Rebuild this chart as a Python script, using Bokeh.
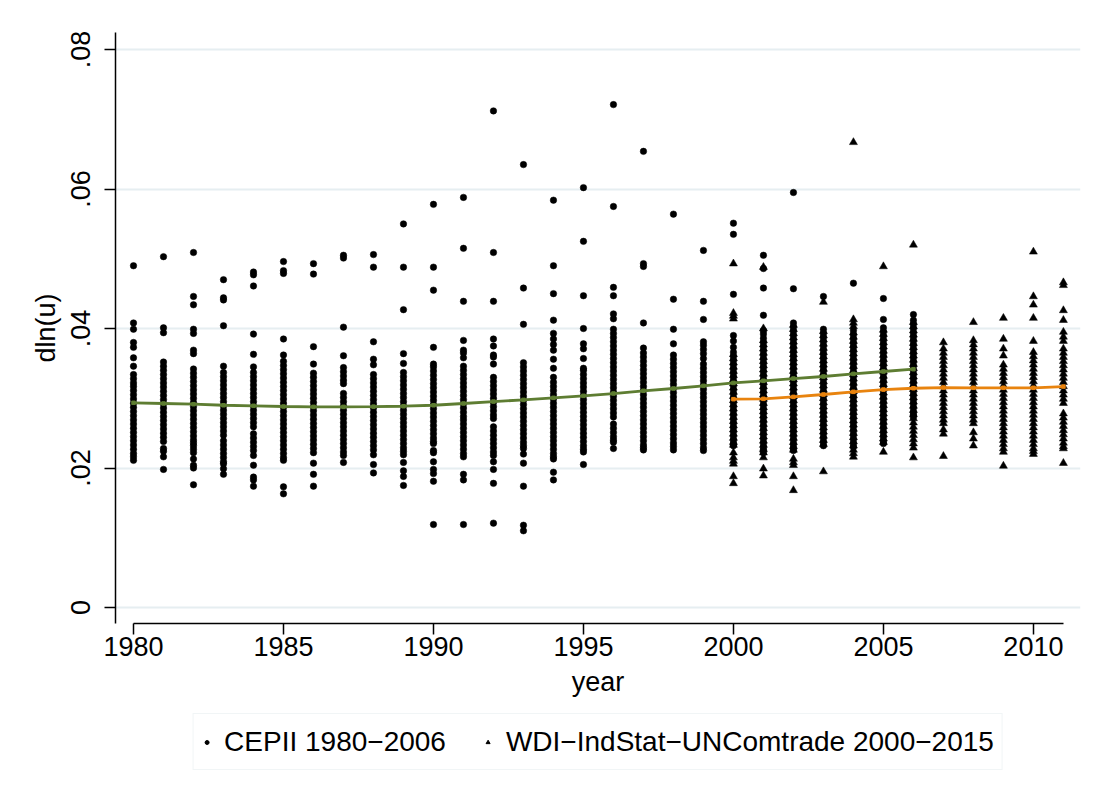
from bokeh.plotting import figure
from bokeh.models import Range1d, FixedTicker, Legend, LegendItem
from bokeh.layouts import column
from bokeh.embed import file_html
from bokeh.resources import INLINE

# ---------------- data ----------------
cepii_years = list(range(1980, 2007))
cepii_values = [
    [0.0490, 0.0408, 0.0399, 0.0380, 0.0373, 0.0358, 0.0346, 0.0334, 0.0328, 0.0322, 0.0317, 0.0311, 0.0305, 0.0299, 0.0293, 0.0287, 0.0281, 0.0275, 0.0269, 0.0263, 0.0257, 0.0251, 0.0245, 0.0239, 0.0233, 0.0227, 0.0221, 0.0216, 0.0211],
    [0.0503, 0.0401, 0.0394, 0.0352, 0.0346, 0.0340, 0.0334, 0.0328, 0.0322, 0.0316, 0.0310, 0.0304, 0.0298, 0.0292, 0.0286, 0.0280, 0.0274, 0.0268, 0.0262, 0.0256, 0.0250, 0.0244, 0.0238, 0.0228, 0.0224, 0.0216, 0.0198],
    [0.0509, 0.0446, 0.0434, 0.0399, 0.0393, 0.0369, 0.0364, 0.0342, 0.0336, 0.0330, 0.0324, 0.0318, 0.0312, 0.0306, 0.0300, 0.0294, 0.0288, 0.0282, 0.0276, 0.0270, 0.0264, 0.0258, 0.0252, 0.0246, 0.0240, 0.0236, 0.0232, 0.0227, 0.0222, 0.0213, 0.0204, 0.0200, 0.0176],
    [0.0470, 0.0444, 0.0441, 0.0404, 0.0346, 0.0337, 0.0331, 0.0325, 0.0319, 0.0313, 0.0307, 0.0301, 0.0295, 0.0289, 0.0283, 0.0277, 0.0271, 0.0265, 0.0259, 0.0253, 0.0247, 0.0239, 0.0233, 0.0227, 0.0221, 0.0215, 0.0209, 0.0206, 0.0199, 0.0191],
    [0.0481, 0.0477, 0.0461, 0.0392, 0.0363, 0.0345, 0.0337, 0.0331, 0.0325, 0.0319, 0.0313, 0.0307, 0.0301, 0.0295, 0.0289, 0.0283, 0.0277, 0.0271, 0.0265, 0.0259, 0.0249, 0.0243, 0.0237, 0.0231, 0.0225, 0.0218, 0.0204, 0.0187, 0.0183, 0.0174],
    [0.0496, 0.0483, 0.0479, 0.0385, 0.0362, 0.0353, 0.0347, 0.0341, 0.0335, 0.0329, 0.0323, 0.0317, 0.0311, 0.0305, 0.0299, 0.0293, 0.0287, 0.0281, 0.0275, 0.0269, 0.0263, 0.0257, 0.0251, 0.0245, 0.0239, 0.0233, 0.0227, 0.0221, 0.0215, 0.0211, 0.0173, 0.0163],
    [0.0493, 0.0478, 0.0374, 0.0349, 0.0336, 0.0330, 0.0324, 0.0318, 0.0312, 0.0306, 0.0300, 0.0294, 0.0288, 0.0282, 0.0276, 0.0270, 0.0264, 0.0258, 0.0252, 0.0246, 0.0240, 0.0234, 0.0228, 0.0222, 0.0207, 0.0191, 0.0174],
    [0.0505, 0.0501, 0.0402, 0.0361, 0.0344, 0.0338, 0.0332, 0.0326, 0.0321, 0.0307, 0.0301, 0.0295, 0.0289, 0.0283, 0.0277, 0.0271, 0.0265, 0.0259, 0.0253, 0.0247, 0.0241, 0.0235, 0.0229, 0.0223, 0.0218, 0.0208],
    [0.0506, 0.0488, 0.0381, 0.0356, 0.0348, 0.0334, 0.0328, 0.0322, 0.0316, 0.0310, 0.0304, 0.0298, 0.0292, 0.0286, 0.0280, 0.0274, 0.0268, 0.0262, 0.0256, 0.0250, 0.0244, 0.0238, 0.0232, 0.0226, 0.0219, 0.0205, 0.0193],
    [0.0550, 0.0488, 0.0427, 0.0364, 0.0350, 0.0337, 0.0331, 0.0325, 0.0319, 0.0313, 0.0307, 0.0301, 0.0295, 0.0289, 0.0283, 0.0277, 0.0271, 0.0265, 0.0259, 0.0253, 0.0247, 0.0241, 0.0235, 0.0229, 0.0224, 0.0219, 0.0208, 0.0196, 0.0188, 0.0175],
    [0.0578, 0.0488, 0.0455, 0.0373, 0.0349, 0.0345, 0.0339, 0.0333, 0.0327, 0.0321, 0.0315, 0.0309, 0.0303, 0.0297, 0.0291, 0.0285, 0.0279, 0.0273, 0.0267, 0.0261, 0.0255, 0.0249, 0.0243, 0.0238, 0.0235, 0.0225, 0.0222, 0.0209, 0.0198, 0.0192, 0.0181, 0.0119],
    [0.0588, 0.0515, 0.0439, 0.0383, 0.0369, 0.0365, 0.0358, 0.0346, 0.0340, 0.0334, 0.0328, 0.0322, 0.0316, 0.0310, 0.0304, 0.0298, 0.0292, 0.0286, 0.0280, 0.0274, 0.0269, 0.0263, 0.0257, 0.0251, 0.0245, 0.0239, 0.0233, 0.0227, 0.0221, 0.0216, 0.0191, 0.0183, 0.0119],
    [0.0712, 0.0509, 0.0439, 0.0385, 0.0375, 0.0362, 0.0359, 0.0349, 0.0330, 0.0324, 0.0318, 0.0312, 0.0306, 0.0300, 0.0294, 0.0288, 0.0282, 0.0276, 0.0271, 0.0259, 0.0253, 0.0247, 0.0241, 0.0235, 0.0229, 0.0223, 0.0218, 0.0209, 0.0198, 0.0178, 0.0121],
    [0.0635, 0.0458, 0.0406, 0.0351, 0.0345, 0.0339, 0.0333, 0.0327, 0.0321, 0.0315, 0.0309, 0.0303, 0.0297, 0.0291, 0.0285, 0.0279, 0.0273, 0.0267, 0.0261, 0.0255, 0.0249, 0.0243, 0.0237, 0.0232, 0.0228, 0.0220, 0.0207, 0.0174, 0.0118, 0.0110],
    [0.0584, 0.0490, 0.0450, 0.0412, 0.0393, 0.0385, 0.0377, 0.0369, 0.0356, 0.0343, 0.0330, 0.0323, 0.0317, 0.0311, 0.0305, 0.0299, 0.0293, 0.0287, 0.0281, 0.0275, 0.0269, 0.0263, 0.0257, 0.0251, 0.0245, 0.0239, 0.0233, 0.0227, 0.0221, 0.0216, 0.0213, 0.0194, 0.0183],
    [0.0602, 0.0525, 0.0447, 0.0400, 0.0378, 0.0371, 0.0357, 0.0343, 0.0340, 0.0334, 0.0328, 0.0322, 0.0316, 0.0310, 0.0304, 0.0298, 0.0292, 0.0286, 0.0280, 0.0274, 0.0268, 0.0262, 0.0256, 0.0250, 0.0244, 0.0238, 0.0232, 0.0227, 0.0223, 0.0205],
    [0.0721, 0.0575, 0.0459, 0.0447, 0.0421, 0.0414, 0.0399, 0.0393, 0.0387, 0.0381, 0.0375, 0.0369, 0.0363, 0.0357, 0.0351, 0.0345, 0.0339, 0.0333, 0.0327, 0.0321, 0.0315, 0.0309, 0.0303, 0.0297, 0.0291, 0.0285, 0.0279, 0.0273, 0.0263, 0.0257, 0.0251, 0.0245, 0.0240, 0.0237, 0.0228],
    [0.0654, 0.0493, 0.0489, 0.0408, 0.0372, 0.0365, 0.0359, 0.0353, 0.0347, 0.0341, 0.0335, 0.0329, 0.0323, 0.0317, 0.0311, 0.0305, 0.0299, 0.0293, 0.0287, 0.0281, 0.0275, 0.0269, 0.0263, 0.0257, 0.0251, 0.0245, 0.0239, 0.0233, 0.0229, 0.0226],
    [0.0564, 0.0442, 0.0399, 0.0378, 0.0362, 0.0356, 0.0350, 0.0344, 0.0338, 0.0332, 0.0326, 0.0320, 0.0314, 0.0308, 0.0302, 0.0296, 0.0290, 0.0284, 0.0278, 0.0272, 0.0266, 0.0260, 0.0254, 0.0248, 0.0242, 0.0236, 0.0231, 0.0226],
    [0.0512, 0.0439, 0.0413, 0.0381, 0.0376, 0.0370, 0.0364, 0.0357, 0.0349, 0.0343, 0.0337, 0.0331, 0.0325, 0.0319, 0.0313, 0.0307, 0.0301, 0.0295, 0.0289, 0.0283, 0.0277, 0.0271, 0.0265, 0.0259, 0.0253, 0.0247, 0.0241, 0.0235, 0.0229, 0.0225],
    [0.0551, 0.0535, 0.0449, 0.0390, 0.0382, 0.0373, 0.0366, 0.0360, 0.0354, 0.0348, 0.0342, 0.0336, 0.0330, 0.0324, 0.0318, 0.0312, 0.0306, 0.0300, 0.0294, 0.0288, 0.0282, 0.0276, 0.0270, 0.0264, 0.0258, 0.0252, 0.0246, 0.0240, 0.0235, 0.0232],
    [0.0505, 0.0486, 0.0458, 0.0419, 0.0397, 0.0392, 0.0386, 0.0380, 0.0374, 0.0368, 0.0362, 0.0356, 0.0350, 0.0344, 0.0338, 0.0332, 0.0326, 0.0320, 0.0314, 0.0308, 0.0302, 0.0296, 0.0290, 0.0284, 0.0278, 0.0272, 0.0266, 0.0260, 0.0254, 0.0248, 0.0242, 0.0236, 0.0230, 0.0226, 0.0222],
    [0.0595, 0.0457, 0.0408, 0.0402, 0.0396, 0.0390, 0.0384, 0.0378, 0.0372, 0.0366, 0.0360, 0.0354, 0.0348, 0.0342, 0.0336, 0.0330, 0.0324, 0.0318, 0.0312, 0.0306, 0.0300, 0.0294, 0.0288, 0.0282, 0.0276, 0.0270, 0.0264, 0.0258, 0.0252, 0.0246, 0.0240, 0.0234, 0.0229, 0.0225],
    [0.0446, 0.0399, 0.0393, 0.0387, 0.0381, 0.0375, 0.0369, 0.0363, 0.0357, 0.0351, 0.0345, 0.0339, 0.0333, 0.0327, 0.0321, 0.0315, 0.0309, 0.0303, 0.0297, 0.0291, 0.0285, 0.0279, 0.0273, 0.0267, 0.0261, 0.0255, 0.0249, 0.0243, 0.0237, 0.0232],
    [0.0465, 0.0397, 0.0391, 0.0385, 0.0379, 0.0373, 0.0367, 0.0361, 0.0355, 0.0349, 0.0343, 0.0337, 0.0331, 0.0325, 0.0319, 0.0313, 0.0307, 0.0301, 0.0295, 0.0289, 0.0283, 0.0277, 0.0271, 0.0265, 0.0259, 0.0253, 0.0247, 0.0241, 0.0235, 0.0230],
    [0.0443, 0.0413, 0.0401, 0.0395, 0.0389, 0.0383, 0.0377, 0.0371, 0.0365, 0.0359, 0.0353, 0.0347, 0.0341, 0.0335, 0.0329, 0.0323, 0.0317, 0.0311, 0.0305, 0.0299, 0.0293, 0.0287, 0.0281, 0.0275, 0.0269, 0.0263, 0.0257, 0.0251, 0.0245, 0.0239, 0.0235],
    [0.0420, 0.0412, 0.0406, 0.0400, 0.0394, 0.0388, 0.0382, 0.0376, 0.0370, 0.0364, 0.0358, 0.0352, 0.0346, 0.0340, 0.0334, 0.0328, 0.0322, 0.0316, 0.0310, 0.0304, 0.0298, 0.0292, 0.0286, 0.0280, 0.0276, 0.0273],
]

wdi_years = list(range(2000, 2012))
wdi_values = [
    [0.0493, 0.0422, 0.0418, 0.0414, 0.0363, 0.0357, 0.0351, 0.0345, 0.0339, 0.0333, 0.0327, 0.0321, 0.0315, 0.0309, 0.0303, 0.0297, 0.0291, 0.0285, 0.0279, 0.0273, 0.0267, 0.0261, 0.0255, 0.0249, 0.0243, 0.0237, 0.0233, 0.0222, 0.0215, 0.0210, 0.0206, 0.0188, 0.0178],
    [0.0488, 0.0400, 0.0383, 0.0377, 0.0371, 0.0365, 0.0359, 0.0353, 0.0347, 0.0341, 0.0335, 0.0329, 0.0323, 0.0317, 0.0311, 0.0305, 0.0299, 0.0293, 0.0287, 0.0281, 0.0275, 0.0269, 0.0263, 0.0257, 0.0251, 0.0245, 0.0239, 0.0233, 0.0227, 0.0222, 0.0215, 0.0199, 0.0189],
    [0.0405, 0.0399, 0.0393, 0.0387, 0.0381, 0.0375, 0.0369, 0.0363, 0.0357, 0.0351, 0.0345, 0.0339, 0.0333, 0.0327, 0.0321, 0.0315, 0.0309, 0.0303, 0.0297, 0.0291, 0.0285, 0.0279, 0.0273, 0.0267, 0.0261, 0.0255, 0.0249, 0.0243, 0.0237, 0.0231, 0.0226, 0.0213, 0.0208, 0.0204, 0.0188, 0.0168],
    [0.0438, 0.0396, 0.0390, 0.0384, 0.0378, 0.0372, 0.0366, 0.0360, 0.0354, 0.0348, 0.0342, 0.0336, 0.0330, 0.0324, 0.0318, 0.0312, 0.0306, 0.0300, 0.0294, 0.0288, 0.0282, 0.0276, 0.0270, 0.0264, 0.0258, 0.0252, 0.0246, 0.0240, 0.0234, 0.0195],
    [0.0667, 0.0413, 0.0408, 0.0403, 0.0394, 0.0388, 0.0382, 0.0376, 0.0370, 0.0364, 0.0358, 0.0352, 0.0346, 0.0340, 0.0334, 0.0328, 0.0322, 0.0316, 0.0310, 0.0304, 0.0298, 0.0292, 0.0286, 0.0280, 0.0274, 0.0268, 0.0262, 0.0256, 0.0250, 0.0244, 0.0238, 0.0232, 0.0226, 0.0221, 0.0216],
    [0.0489, 0.0398, 0.0392, 0.0386, 0.0380, 0.0374, 0.0368, 0.0362, 0.0356, 0.0350, 0.0344, 0.0338, 0.0332, 0.0326, 0.0320, 0.0314, 0.0308, 0.0302, 0.0296, 0.0290, 0.0284, 0.0278, 0.0272, 0.0266, 0.0260, 0.0254, 0.0248, 0.0242, 0.0237, 0.0223],
    [0.0520, 0.0409, 0.0403, 0.0397, 0.0391, 0.0385, 0.0379, 0.0373, 0.0367, 0.0361, 0.0355, 0.0349, 0.0343, 0.0337, 0.0331, 0.0325, 0.0319, 0.0313, 0.0307, 0.0301, 0.0295, 0.0289, 0.0283, 0.0277, 0.0271, 0.0265, 0.0259, 0.0253, 0.0247, 0.0241, 0.0235, 0.0229, 0.0215],
    [0.0380, 0.0371, 0.0365, 0.0359, 0.0353, 0.0347, 0.0341, 0.0335, 0.0329, 0.0323, 0.0317, 0.0311, 0.0305, 0.0299, 0.0293, 0.0287, 0.0281, 0.0275, 0.0269, 0.0264, 0.0255, 0.0249, 0.0217],
    [0.0409, 0.0383, 0.0377, 0.0371, 0.0365, 0.0359, 0.0353, 0.0347, 0.0341, 0.0335, 0.0329, 0.0323, 0.0317, 0.0311, 0.0305, 0.0299, 0.0293, 0.0287, 0.0281, 0.0275, 0.0269, 0.0264, 0.0251, 0.0242, 0.0232],
    [0.0415, 0.0385, 0.0371, 0.0361, 0.0348, 0.0342, 0.0336, 0.0330, 0.0324, 0.0318, 0.0312, 0.0306, 0.0300, 0.0294, 0.0288, 0.0282, 0.0276, 0.0270, 0.0264, 0.0258, 0.0252, 0.0246, 0.0240, 0.0234, 0.0228, 0.0223, 0.0203],
    [0.0510, 0.0446, 0.0434, 0.0415, 0.0382, 0.0366, 0.0360, 0.0354, 0.0348, 0.0342, 0.0336, 0.0330, 0.0324, 0.0318, 0.0312, 0.0306, 0.0300, 0.0294, 0.0288, 0.0282, 0.0276, 0.0270, 0.0264, 0.0258, 0.0252, 0.0246, 0.0240, 0.0234, 0.0228, 0.0224, 0.0220],
    [0.0466, 0.0462, 0.0426, 0.0412, 0.0395, 0.0388, 0.0382, 0.0371, 0.0365, 0.0359, 0.0353, 0.0347, 0.0341, 0.0335, 0.0329, 0.0323, 0.0317, 0.0311, 0.0305, 0.0299, 0.0293, 0.0278, 0.0272, 0.0266, 0.0260, 0.0254, 0.0248, 0.0242, 0.0236, 0.0231, 0.0228, 0.0207],
]

cepii_smooth = [0.02935, 0.02925, 0.02915, 0.02900, 0.02892, 0.02882, 0.02877, 0.02877, 0.02880, 0.02886,
                0.02900, 0.02925, 0.02953, 0.02977, 0.03006, 0.03035, 0.03068, 0.03107, 0.03140, 0.03178,
                0.03220, 0.03250, 0.03283, 0.03312, 0.03350, 0.03384, 0.03417]
wdi_smooth = [0.02987, 0.02992, 0.03020, 0.03054, 0.03092, 0.03125, 0.03144, 0.03154, 0.03150, 0.03150, 0.03150, 0.03168]

x_ticks = [1980, 1985, 1990, 1995, 2000, 2005, 2010]
y_ticks = [0.0, 0.02, 0.04, 0.06, 0.08]
y_tick_labels = ["0", ".02", ".04", ".06", ".08"]
legend_labels = ["CEPII 1980\u22122006", "WDI\u2212IndStat\u2212UNComtrade 2000\u22122015"]

GREEN = "#5E7D32"
ORANGE = "#E8830E"
GRID = "#E6EEF1"
FONT = "Liberation Sans"

# flatten for the scatter glyphs
cx, cy = [], []
for yr, vals in zip(cepii_years, cepii_values):
    cx += [yr] * len(vals)
    cy += vals
wx, wy = [], []
for yr, vals in zip(wdi_years, wdi_values):
    wx += [yr] * len(vals)
    wy += vals

# ---------------- main plot ----------------
p = figure(width=1083, height=705, output_backend="svg", toolbar_location=None,
           x_range=Range1d(1979.4, 2011.57), y_range=Range1d(-0.00229, 0.08244),
           min_border_left=115, min_border_right=3, min_border_top=32, min_border_bottom=82)
p.background_fill_color = "white"
p.border_fill_color = "white"
p.outline_line_color = None

p.xgrid.grid_line_color = None
p.ygrid.grid_line_color = GRID
p.ygrid.grid_line_width = 2

xa = p.xaxis[0]
xa.ticker = FixedTicker(ticks=x_ticks)
xa.bounds = (1980, 2011)
xa.axis_label = "year"
xa.axis_line_width = 1.5
xa.major_tick_line_width = 1.5
xa.major_tick_out = 11
xa.major_tick_in = 0
xa.minor_tick_line_color = None
xa.major_label_text_font = FONT
xa.major_label_text_font_size = "27px"
xa.major_label_text_color = "black"
xa.major_label_standoff = 2
xa.axis_label_text_font = FONT
xa.axis_label_text_font_size = "27px"
xa.axis_label_text_font_style = "normal"
xa.axis_label_text_color = "black"
xa.axis_label_standoff = 8

ya = p.yaxis[0]
ya.ticker = FixedTicker(ticks=y_ticks)
ya.major_label_overrides = {t: l for t, l in zip(y_ticks, y_tick_labels)}
ya.major_label_orientation = "vertical"
ya.axis_label = "dln(u)"
ya.axis_line_width = 1.5
ya.major_tick_line_width = 1.5
ya.major_tick_out = 11
ya.major_tick_in = 0
ya.minor_tick_line_color = None
ya.major_label_text_font = FONT
ya.major_label_text_font_size = "27px"
ya.major_label_text_color = "black"
ya.major_label_standoff = 14
ya.axis_label_text_font = FONT
ya.axis_label_text_font_size = "27px"
ya.axis_label_text_font_style = "normal"
ya.axis_label_text_color = "black"
ya.axis_label_standoff = 8

p.scatter(cx, cy, marker="circle", size=6.5, fill_color="black", line_color="black", line_width=0.5)
p.scatter(wx, wy, marker="triangle", size=8, fill_color="black", line_color="black", line_width=0.5)

p.line(cepii_years, cepii_smooth, line_color=GREEN, line_width=2.8)
p.scatter(cepii_years, cepii_smooth, marker="square", size=3.5, color=GREEN)
p.line(wdi_years, wdi_smooth, line_color=ORANGE, line_width=2.8)
p.scatter(wdi_years, wdi_smooth, marker="square", size=3.5, color=ORANGE)

# ---------------- legend strip ----------------
lg = figure(width=1083, height=80, output_backend="svg", toolbar_location=None,
            x_axis_location=None, y_axis_location=None,
            x_range=Range1d(1979.4, 2011.57), y_range=Range1d(-0.00229, 0.08244),
            min_border_left=115, min_border_right=3, min_border_top=0, min_border_bottom=0)
lg.background_fill_color = "white"
lg.border_fill_color = "white"
lg.outline_line_color = None
lg.grid.visible = False
k1 = lg.scatter(cx, cy, marker="circle", color="black", visible=False)
k2 = lg.scatter(wx, wy, marker="triangle", color="black", visible=False)

legend = Legend(items=[LegendItem(label=legend_labels[0], renderers=[k1]),
                       LegendItem(label=legend_labels[1], renderers=[k2])],
                location="top_center", orientation="horizontal")
legend.label_text_font = FONT
legend.label_text_font_size = "28px"
legend.label_text_color = "black"
legend.glyph_width = 10
legend.glyph_height = 20
legend.label_standoff = 13
legend.spacing = 37
legend.padding = 8
legend.margin = 8
legend.label_height = 39
legend.border_line_color = "#E3EBEE"
legend.border_line_width = 1.5
legend.background_fill_color = "white"
legend.background_fill_alpha = 1.0
legend.inactive_fill_alpha = 0.0
lg.add_layout(legend)

open("out.html", "w").write(file_html(column(p, lg), INLINE))
